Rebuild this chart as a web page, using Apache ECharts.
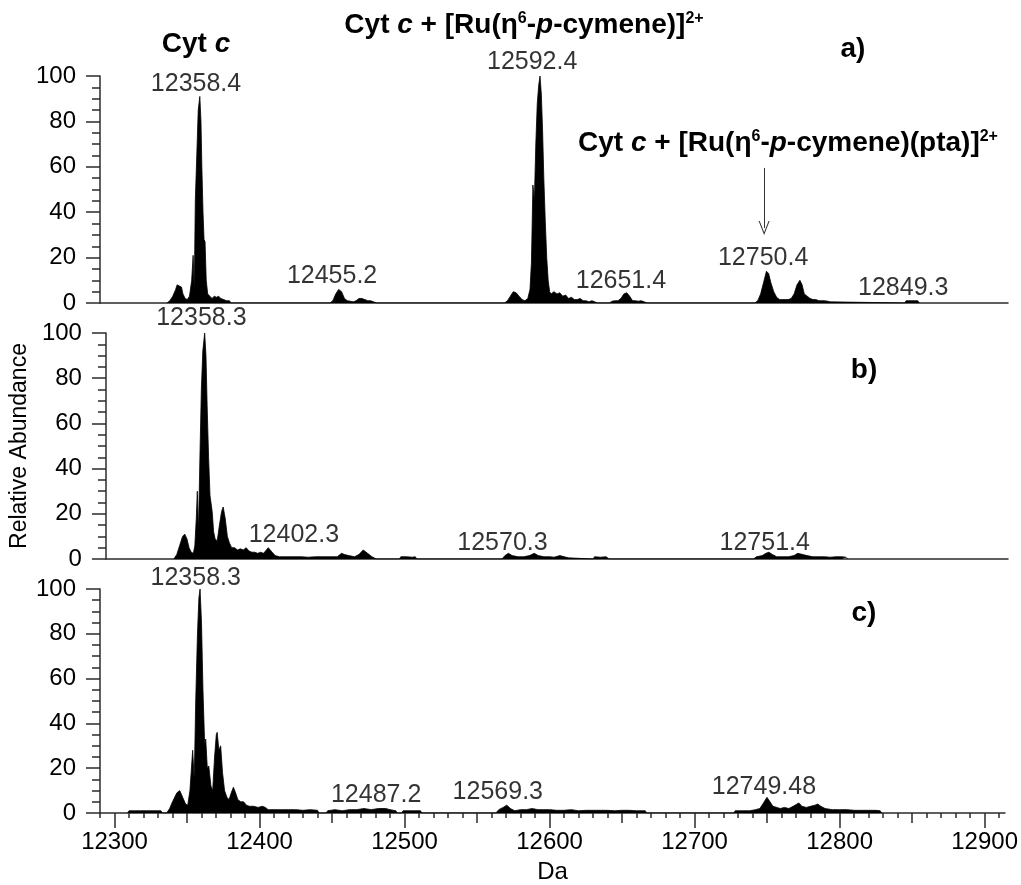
<!DOCTYPE html>
<html>
<head>
<meta charset="utf-8">
<script src="https://cdn.jsdelivr.net/npm/echarts@6/dist/echarts.min.js"></script>
<style>
    html, body { margin: 0; padding: 0; background: #fff; }
    #main { width: 1021px; height: 885px; }
</style>
</head>
<body>
<div id="main"></div>
<script>
// x axis (Da)
var massMin = 12290, massMax = 12914;
var massTicks = [12300, 12400, 12500, 12600, 12700, 12800, 12900];

// a) Cyt c + Ru(p-cymene) adducts
var specA = [
    [12336, 0], [12338, 1], [12340, 3], [12342, 6], [12343, 8], [12344.5, 7.5], [12346, 7], [12347, 4],
    [12348.5, 2], [12350, 1.5], [12351.5, 3], [12353, 10], [12354, 21], [12354.8, 6], [12355.5, 45],
    [12356.5, 65], [12357.5, 85], [12358.6, 91], [12359.4, 80], [12360, 60], [12360.8, 40], [12361.5, 28],
    [12362.2, 27], [12363, 10], [12364, 4], [12365.5, 3], [12367, 2], [12368.5, 3], [12370, 2.5],
    [12371.5, 3], [12373, 2], [12375, 1.5], [12377, 1], [12379, 1], [12380, 0],
    [12448, 0], [12450, 1], [12452, 4], [12454, 6], [12456, 5], [12458, 2], [12460, 1], [12462, 0.8],
    [12464, 0.5], [12466, 1], [12468, 2], [12470, 2], [12472, 1.5], [12474, 1], [12476, 1], [12478, 0.5], [12480, 0],
    [12568, 0], [12570, 1], [12572, 3], [12574, 5], [12576, 4.5], [12578, 3], [12580, 1.5], [12582, 1],
    [12584, 2], [12585.5, 6], [12586.5, 18], [12587.5, 52], [12588.5, 45], [12589.5, 70], [12590.5, 88],
    [12591.5, 96], [12592.4, 100], [12593.3, 92], [12594.2, 75], [12595, 55], [12596, 36], [12597, 20],
    [12598, 10], [12599, 5], [12600, 4], [12602, 5], [12604, 4], [12606, 4.5], [12608, 3], [12610, 3.5],
    [12612, 2], [12614, 2.5], [12616, 1.5], [12618, 1.5], [12620, 2], [12622, 1], [12624, 1], [12626, 0.5],
    [12628, 1], [12630, 0.5], [12632, 0],
    [12640, 0], [12642, 0.8], [12644, 1], [12646, 1], [12648, 2], [12650, 4], [12652, 4.5], [12654, 3],
    [12656, 1], [12658, 1], [12660, 0.8], [12662, 1], [12664, 0.5], [12666, 0],
    [12740, 0], [12742, 1], [12744, 4], [12746, 9], [12748, 14], [12749.5, 13], [12751, 9], [12753, 5],
    [12755, 2.5], [12757, 1.5], [12759, 1.5], [12761, 1.5], [12763, 1.5], [12765, 2], [12767, 4],
    [12769, 8], [12771, 10], [12772.5, 8], [12774, 4], [12776, 3], [12778, 2], [12780, 1.5], [12782, 1.5],
    [12784, 1], [12786, 1], [12788, 1], [12790, 0.8], [12792, 0.5], [12793, 0],
    [12843, 0], [12844, 1], [12846, 1], [12848, 1], [12850, 1], [12852, 1], [12853, 0]
];

// b)
var specB = [
    [12337, 0], [12339, 2], [12341, 6], [12343, 10], [12344.5, 11], [12346, 9], [12347.5, 5], [12349, 3],
    [12350.5, 2.5], [12351.5, 6], [12352.5, 18], [12353.2, 30], [12354, 12], [12355, 45], [12356, 75],
    [12357, 92], [12358.3, 100], [12359.2, 90], [12360, 68], [12361, 45], [12362, 28], [12363.5, 21],
    [12364.5, 12], [12365.5, 9], [12367, 8], [12368.5, 15], [12370, 21], [12371.1, 23], [12372.5, 18],
    [12374, 10], [12375.5, 7], [12377, 5], [12379, 5], [12381, 4], [12383, 4.5], [12385, 4], [12387, 5],
    [12389, 3.5], [12391, 3], [12393, 3], [12395, 2.5], [12397, 3], [12399, 2.5], [12401, 4], [12402.3, 5],
    [12405, 3], [12407, 1.5], [12410, 1], [12415, 1], [12420, 1], [12425, 1], [12430, 0.8], [12435, 1],
    [12440, 1], [12445, 1], [12450, 1], [12453, 2.5], [12455, 2], [12458, 1.5], [12462, 1], [12465, 2],
    [12468, 4], [12471, 2.5], [12474, 1], [12477, 0],
    [12493, 0], [12494, 1], [12498, 1], [12502, 0.8], [12504, 1], [12505, 0],
    [12564, 0], [12566, 1.5], [12568.4, 2.5], [12571, 1.5], [12575, 1], [12579, 1], [12583, 1.5],
    [12586.3, 2.5], [12589, 1.5], [12593, 1], [12597, 1], [12600, 0.8], [12604, 1.5], [12607, 1],
    [12610, 0.5], [12611, 0],
    [12627, 0], [12628, 1], [12632, 0.8], [12636, 1], [12638, 0],
    [12738, 0], [12740, 1], [12744, 1.5], [12746.5, 2.5], [12748.6, 3], [12751, 2], [12754, 1],
    [12758, 1], [12762, 1], [12766, 1.5], [12768.5, 2.5], [12769.8, 3], [12772, 2], [12775, 1.5],
    [12779, 1], [12783, 1], [12787, 1], [12791, 0.8], [12795, 1], [12799, 1], [12802, 0.8], [12803, 0]
];

// c)
var specC = [
    [12309, 0], [12310, 1], [12314, 1], [12318, 1], [12322, 1], [12326, 1], [12330, 1], [12332, 1], [12333, 0],
    [12336, 0], [12338, 2], [12340, 5], [12343, 9], [12345, 10], [12347, 7], [12349, 4], [12350.5, 3.5],
    [12352, 10], [12353.9, 28], [12355, 15], [12356, 50], [12357.2, 80], [12358.2, 96], [12359, 100],
    [12360, 85], [12361, 55], [12362.2, 30], [12362.9, 33], [12364, 20], [12365, 21], [12366.5, 12],
    [12367.7, 10], [12369, 25], [12370.2, 35], [12370.8, 36], [12372, 28], [12373.2, 30], [12374.5, 18],
    [12375.9, 10], [12377.5, 7], [12379, 6], [12380.5, 9], [12382, 11.5], [12383.5, 9], [12385, 6],
    [12387, 5], [12389, 5], [12391, 3.5], [12393, 3], [12396, 3], [12399, 2.5], [12402, 3], [12404, 2.5],
    [12406, 1.5], [12410, 1.5], [12415, 1.5], [12420, 1.5], [12425, 1.5], [12430, 1.2], [12435, 1.5],
    [12440, 1.2], [12441, 0],
    [12446, 0], [12447, 1], [12452, 1.5], [12457, 1], [12462, 1.5], [12467, 1.5], [12472, 2], [12477, 1.5],
    [12482, 2], [12487, 2], [12490, 1.5], [12494, 1], [12495, 0],
    [12498, 0], [12499, 1], [12505, 1], [12511, 1], [12512, 0],
    [12563, 0], [12565, 1.5], [12568, 2.5], [12570.5, 3.5], [12573, 2], [12576, 1], [12580, 1.5],
    [12584, 1.5], [12588, 2], [12592, 1.5], [12596, 1.5], [12600, 1.5], [12605, 1.2], [12610, 1.2],
    [12615, 1.5], [12620, 1], [12625, 1.2], [12630, 1.2], [12635, 1.2], [12640, 1.2], [12645, 1],
    [12650, 1.2], [12655, 1.2], [12660, 1], [12666, 1], [12667, 0],
    [12727, 0], [12728, 1], [12733, 1], [12738, 1], [12742, 1.5], [12745, 2], [12747.5, 4.5], [12749.9, 7],
    [12752, 5], [12754, 3], [12756.7, 2.5], [12759, 2], [12762, 2.5], [12765, 2], [12768, 3],
    [12771.9, 4.5], [12774, 3], [12777, 2.5], [12780, 3], [12783, 3.5], [12785, 4], [12787, 3], [12790, 2],
    [12795, 1.5], [12800, 1.5], [12805, 1.5], [12810, 1.2], [12815, 1.2], [12820, 1.2], [12825, 1.2],
    [12828, 1], [12829, 0]
];

// peak labels: [mass, abundance, text]
var labelsA = [[12356, 96.5, '12358.4'], [12587, 106, '12592.4'], [12449.5, 12, '12455.2'],
    [12648, 9.7, '12651.4'], [12745.7, 19.8, '12750.4'], [12842, 6.6, '12849.3']];
var labelsB = [[12356, 106.5, '12358.3'], [12420, 10.6, '12402.3'], [12564.3, 7.1, '12570.3'],
    [12745.7, 7.1, '12751.4']];
var labelsC = [[12356, 104.8, '12358.3'], [12480.4, 7.9, '12487.2'], [12564.3, 9.3, '12569.3'],
    [12747.8, 11.5, '12749.48']];

// arrow in a): [mass, from, to]
var arrowA = [12746.4, 59.5, 33];

var FONT = 'Liberation Sans, Arial, sans-serif';
var AXIS_COLOR = '#2b2b2b';

var minorTicks = [], midTicks = [];
for (var m = massMin; m <= massMax; m += 10) {
    if (m % 50 !== 0) minorTicks.push(m);
    else if (m % 100 !== 0) midTicks.push(m);
}

var mychart = echarts.init(document.getElementById('main'));

var grids = [
    {left: 100, right: 13, top: 76, height: 227},
    {left: 100, right: 13, top: 333, height: 226},
    {left: 100, right: 13, top: 589, height: 227}
];

function plainX(idx) {
    return {
        type: 'value', gridIndex: idx, position: 'bottom', min: massMin, max: massMax,
        axisLine: {show: true, onZero: false, lineStyle: {color: AXIS_COLOR, width: 1.5}},
        axisTick: {show: false}, axisLabel: {show: false}, splitLine: {show: false}
    };
}

function tickX(values, len) {
    return {
        type: 'value', gridIndex: 2, position: 'bottom', min: massMin, max: massMax,
        axisLine: {show: false, onZero: false}, axisLabel: {show: false}, splitLine: {show: false},
        axisTick: {show: true, length: len, customValues: values, lineStyle: {color: AXIS_COLOR, width: 1.5}}
    };
}

function yAx(idx) {
    return {
        type: 'value', gridIndex: idx, min: 0, max: 100, interval: 20,
        axisLine: {show: true, lineStyle: {color: AXIS_COLOR, width: 1.5}},
        axisTick: {show: true, length: 14, lineStyle: {color: AXIS_COLOR, width: 1.5}},
        minorTick: {show: true, splitNumber: 4, length: 8, lineStyle: {color: AXIS_COLOR, width: 1.5}},
        axisLabel: {fontSize: 24, color: '#000', fontFamily: FONT, margin: 24},
        splitLine: {show: false}
    };
}

var xAxes = [plainX(0), plainX(1), {
    type: 'value', gridIndex: 2, position: 'bottom', min: massMin, max: massMax,
    name: 'Da', nameLocation: 'middle', nameGap: 47,
    nameTextStyle: {fontSize: 24, color: '#000', fontFamily: FONT},
    axisLine: {show: true, onZero: false, lineStyle: {color: AXIS_COLOR, width: 1.5}},
    axisTick: {show: true, length: 15, customValues: massTicks, lineStyle: {color: AXIS_COLOR, width: 1.5}},
    axisLabel: {
        show: true, customValues: massTicks, fontSize: 24, color: '#000', fontFamily: FONT, margin: 17,
        formatter: function (v) { return String(v); }
    },
    splitLine: {show: false}
}, tickX(minorTicks, 5), tickX(midTicks, 10)];

var yAxes = [yAx(0), yAx(1), yAx(2)];
yAxes[1].name = 'Relative Abundance';
yAxes[1].nameLocation = 'middle';
yAxes[1].nameGap = 58;
yAxes[1].nameTextStyle = {fontSize: 23, color: '#000', fontFamily: FONT};

function specSeries(data, idx) {
    return {
        type: 'line', xAxisIndex: idx, yAxisIndex: idx, data: data,
        symbol: 'none', smooth: false, silent: true,
        lineStyle: {color: '#000', width: 0.8},
        areaStyle: {color: '#000', opacity: 1}
    };
}

function labelSeries(data, idx) {
    return {
        type: 'scatter', xAxisIndex: idx, yAxisIndex: idx, data: data,
        symbolSize: 0, clip: false, silent: true,
        label: {
            show: true, position: 'inside', color: '#000', fontSize: 25, fontFamily: FONT,
            textBorderWidth: 0,
            formatter: function (p) { return p.data[2]; }
        }
    };
}

var seriesA = specSeries(specA, 0);
seriesA.markLine = {
    silent: true,
    symbol: ['none', 'path://M0,12 L5,0 L10,12 L9,12 L5,2.4 L1,12 Z'],
    symbolSize: [11, 14],
    label: {show: false},
    lineStyle: {color: '#333', width: 1, type: 'solid'},
    data: [[{coord: [arrowA[0], arrowA[1]]}, {coord: [arrowA[0], arrowA[2]]}]]
};

var rich = {
    b: {fontSize: 28, fontWeight: 'bold', fontFamily: FONT, color: '#000'},
    i: {fontSize: 28, fontWeight: 'bold', fontStyle: 'italic', fontFamily: FONT, color: '#000'},
    s: {fontSize: 16, fontWeight: 'bold', fontFamily: FONT, color: '#000', verticalAlign: 'top', padding: [0, 0, 13, 0]}
};

function boldText(x, y, text) {
    return {
        type: 'text', x: x, y: y, silent: true,
        style: {text: text, rich: rich, align: 'center', verticalAlign: 'middle',
            font: 'bold 28px ' + FONT, fill: '#000'}
    };
}

var option = {
    backgroundColor: '#fff',
    animation: false,
    grid: grids,
    xAxis: xAxes,
    yAxis: yAxes,
    series: [seriesA, specSeries(specB, 1), specSeries(specC, 2),
        labelSeries(labelsA, 0), labelSeries(labelsB, 1), labelSeries(labelsC, 2)],
    graphic: [
        boldText(196, 44, '{b|Cyt }{i|c}'),
        boldText(524, 25, '{b|Cyt }{i|c}{b| + [Ru(η}{s|6}{b|-}{i|p}{b|-cymene)]}{s|2+}'),
        boldText(788, 143, '{b|Cyt }{i|c}{b| + [Ru(η}{s|6}{b|-}{i|p}{b|-cymene)(pta)]}{s|2+}'),
        boldText(853, 49, '{b|a)}'),
        boldText(864, 370, '{b|b)}'),
        boldText(864, 613, '{b|c)}')
    ]
};
mychart.setOption(option);
</script>
</body>
</html>
